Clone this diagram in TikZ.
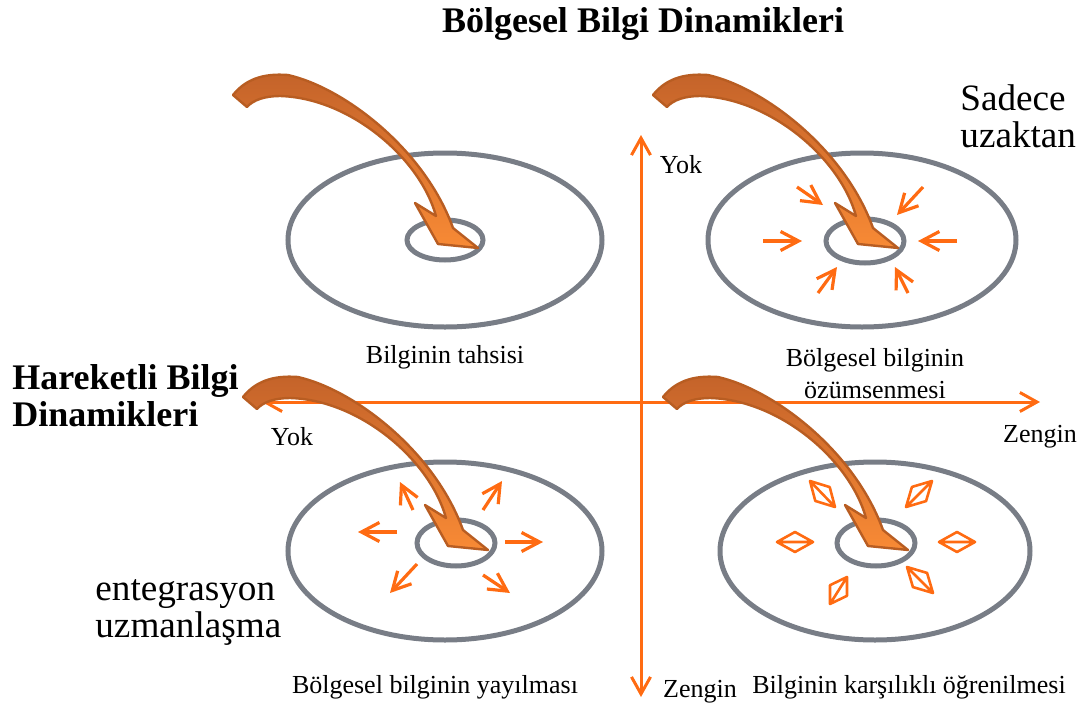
\documentclass[tikz,border=0pt]{standalone}
\usepackage{fontspec}
\setmainfont{Liberation Serif}
\usetikzlibrary{arrows.meta,calc}
\definecolor{ringgray}{HTML}{787D86}
\definecolor{flow}{HTML}{FF6B12}
\definecolor{bigedge}{HTML}{B85D22}
\definecolor{bigtop}{HTML}{C4632A}
\definecolor{bigbottom}{HTML}{F88A35}

% diamond between two end points, with its long axis drawn
\newcommand{\kite}[2]{%
  \draw[kitebox] (#1) -- ($(#1)!.5!(#2)!5pt!90:(#2)$) -- (#2)
    -- ($(#1)!.5!(#2)!5pt!-90:(#2)$) -- cycle (#1) -- (#2);}

\begin{document}
\begin{tikzpicture}[x=0.5pt, y=-0.5pt,
    ring/.style={draw=ringgray, line width=2.5pt},
    axis/.style={{Straight Barb[length=8.5pt,width=9.5pt]}-{Straight Barb[length=8.5pt,width=9.5pt]},
                 line width=1.5pt, flow},
    flowarr/.style={-{Straight Barb[length=9pt,width=9.5pt]}, line width=1.6pt, flow},
    kitebox/.style={draw=flow, line width=1.3pt, line join=round},
    bigarrow/.style={draw=bigedge, line width=1.2pt, line join=round,
                     top color=bigtop, bottom color=bigbottom},
    heading/.style={font=\fontsize{18}{18.5}\selectfont\bfseries, align=left, inner sep=0pt},
    side/.style={font=\fontsize{18.6}{18.5}\selectfont, align=left, inner sep=0pt},
    caption/.style={font=\fontsize{13}{16}\selectfont, align=center}
  ]
  \useasboundingbox (0,0) rectangle (1084,713);

  % axes
  \coordinate (ytop) at (641,135);
  \coordinate (ybot) at (641,697);
  \coordinate (xleft) at (262,402);
  \coordinate (xright) at (1040,402);
  \draw[axis] (ybot) -- (ytop);
  \draw[axis] (xleft) -- (xright);

  % regions
  \draw[ring] (445,240) ellipse [x radius=157, y radius=87];
  \draw[ring] (445,240) ellipse [x radius=38, y radius=20];
  \draw[ring] (862,240) ellipse [x radius=154, y radius=87];
  \draw[ring] (865,241) ellipse [x radius=39, y radius=22];
  \draw[ring] (445,551) ellipse [x radius=157, y radius=89];
  \draw[ring] (456,543) ellipse [x radius=39, y radius=23];
  \draw[ring] (875,551) ellipse [x radius=155, y radius=89];
  \draw[ring] (876,543) ellipse [x radius=39, y radius=23];

  % inward flows
  \draw[flowarr] (763,241) -- (802,241);
  \draw[flowarr] (957,241) -- (918,241);
  \draw[flowarr] (797,187) -- (823,205);
  \draw[flowarr] (923,187) -- (897,215);
  \draw[flowarr] (818,293) -- (837,267);
  \draw[flowarr] (908,293) -- (895,267);

  % outward flows
  \draw[flowarr] (397,532) -- (358,532);
  \draw[flowarr] (505,542) -- (543,542);
  \draw[flowarr] (413,510) -- (400,482);
  \draw[flowarr] (483,510) -- (502,481);
  \draw[flowarr] (417,564) -- (390,593);
  \draw[flowarr] (483,575) -- (510,593);

  % mutual exchange
  \kite{777,542}{813,542}
  \kite{939,542}{975,542}
  \kite{810,481}{835,507}
  \kite{932,481}{906,507}
  \kite{847,577}{830,604}
  \kite{907,567}{933,593}

  % big incoming arrows
  \foreach \dx/\dy in {0/0, 420/0, 10/302, 430/302}
    \path[bigarrow, shift={(\dx,\dy)}]
      (233,95) .. controls (245,80) and (262,73) .. (288,75)
      .. controls (345,88) and (425,150) .. (453,228)
      -- (478,248) -- (438,244) -- (415,203) -- (436,216)
      .. controls (420,158) and (350,98) .. (280,96)
      .. controls (265,96) and (253,100) .. (247,107) -- cycle;

  % labels
  \node[heading] (title) at (643,24) {Bölgesel Bilgi Dinamikleri};
  \node[heading, anchor=west] (mobile) at (12,396) {Hareketli Bilgi\\Dinamikleri};
  \node[side, anchor=west] (remote) at (960,116) {Sadece\\uzaktan};
  \node[side, anchor=west] (integ) at (95,612) {entegrasyon\\uzmanlaşma};

  \node[caption] (ynone) at (681,165) {Yok};
  \node[caption] (yrich) at (700,692) {Zengin};
  \node[caption] (xnone) at (292,437) {Yok};
  \node[caption] (xrich) at (1040,437) {Zengin};

  \node[caption] (alloc) at (445,357) {Bilginin tahsisi};
  \node[caption] (absorb) at (875,374) {Bölgesel bilginin\\özümsenmesi};
  \node[caption] (spread) at (435,687) {Bölgesel bilginin yayılması};
  \node[caption] (mutual) at (909,687) {Bilginin karşılıklı öğrenilmesi};
\end{tikzpicture}
\end{document}
